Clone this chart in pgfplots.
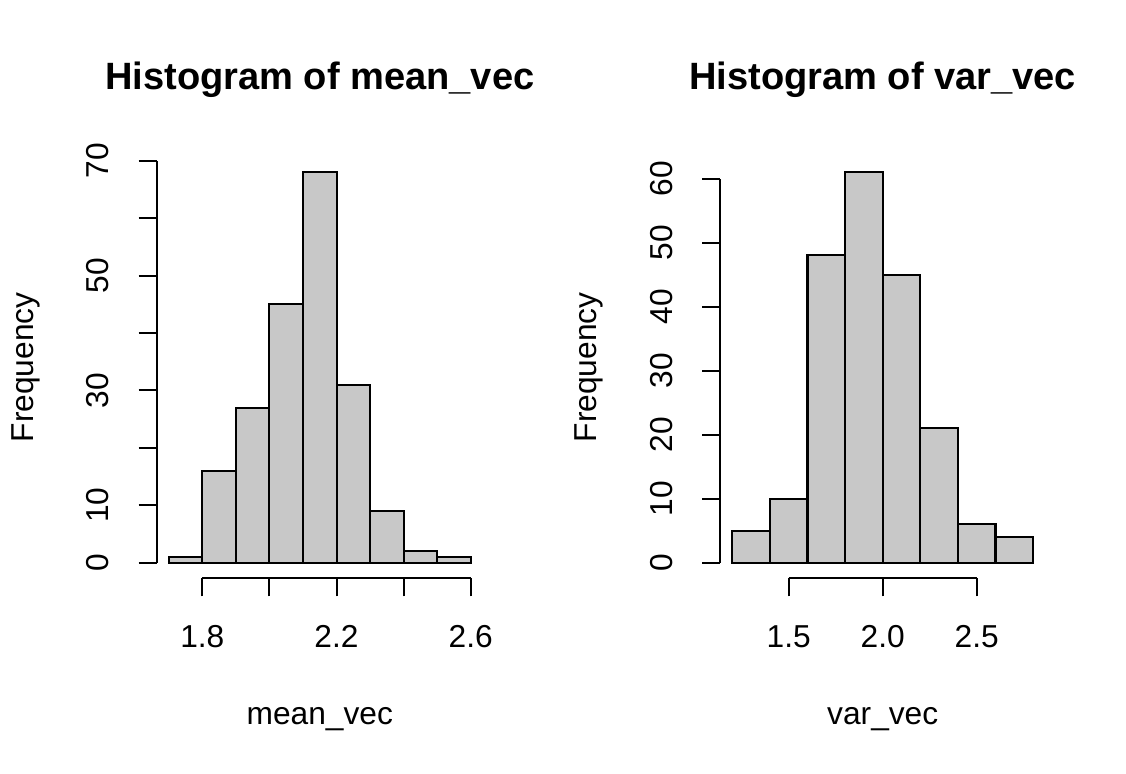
\documentclass[border=0pt]{standalone}
\usepackage{fontspec}
\setmainfont{Liberation Sans}
\usepackage{pgfplots}
\pgfplotsset{compat=1.18}
\definecolor{histgray}{RGB}{200,200,200}

\tikzset{rline/.style={black, line width=0.85pt}}
\pgfplotsset{
  rhist/.style={
    scale only axis,
    height=172.9pt,
    anchor=south west,
    axis line style={draw=none},
    clip=false,
    tick align=outside,
    major tick length=7.4pt,
    every tick/.style={black, line width=0.85pt},
    xtick pos=left,
    ytick pos=left,
    tick label style={font=\fontsize{13}{15}\selectfont},
    label style={font=\fontsize{13}{15}\selectfont},
    every axis title shift=0pt,
    title style={font=\fontsize{15.6}{18}\selectfont\bfseries,
      at={(axis description cs:0.5,1.1596)}, anchor=base},
    xlabel style={at={(axis description cs:0.5,-0.3479)}, anchor=base},
    xticklabel style={anchor=base},
    xticklabel shift=20.9pt,
    yticklabel style={rotate=90, anchor=base},
    yticklabel shift=12.3pt,
    /pgf/number format/assume math mode=true,
  },
  bars/.style={ybar interval, fill=histgray, draw=black, line width=0.85pt},
}

\begin{document}
\begin{tikzpicture}
\path[use as bounding box] (0,0) rectangle (461.66pt,317.34pt);

% left panel
\begin{axis}[rhist,
  at={(64.25pt,80.24pt)}, width=133.7pt,
  xmin=1.664, xmax=2.636, ymin=-2.72, ymax=70.72,
  xtick={1.8,2.0,2.2,2.4,2.6}, xticklabels={1.8,,2.2,,2.6},
  ytick={0,10,...,70}, yticklabels={0,10,,30,,50,,70},
  title={Histogram of mean\_vec},
  xlabel={mean\_vec}, ylabel={Frequency},
  ylabel style={at={(axis description cs:-0.3784,0.5)}, anchor=base},
]
\addplot[bars] coordinates {
  (1.7,1) (1.8,16) (1.9,27) (2.0,45) (2.1,68)
  (2.2,31) (2.3,9) (2.4,2) (2.5,1) (2.6,0)
};
\draw[rline] (axis cs:1.8,-2.72) -- (axis cs:2.6,-2.72);
\draw[rline] (axis cs:1.664,0) -- (axis cs:1.664,70);
\end{axis}

% right panel
\begin{axis}[rhist,
  at={(295.32pt,80.24pt)}, width=133.2pt,
  xmin=1.136, xmax=2.864, ymin=-2.44, ymax=63.44,
  xtick={1.5,2.0,2.5}, xticklabels={1.5,2.0,2.5},
  ytick={0,10,...,60}, yticklabels={0,10,20,30,40,50,60},
  title={Histogram of var\_vec},
  xlabel={var\_vec}, ylabel={Frequency},
  ylabel style={at={(axis description cs:-0.3804,0.5)}, anchor=base},
]
\addplot[bars] coordinates {
  (1.2,5) (1.4,10) (1.6,48) (1.8,61) (2.0,45)
  (2.2,21) (2.4,6) (2.6,4) (2.8,0)
};
\draw[rline] (axis cs:1.5,-2.44) -- (axis cs:2.5,-2.44);
\draw[rline] (axis cs:1.136,0) -- (axis cs:1.136,60);
\end{axis}
\end{tikzpicture}
\end{document}
